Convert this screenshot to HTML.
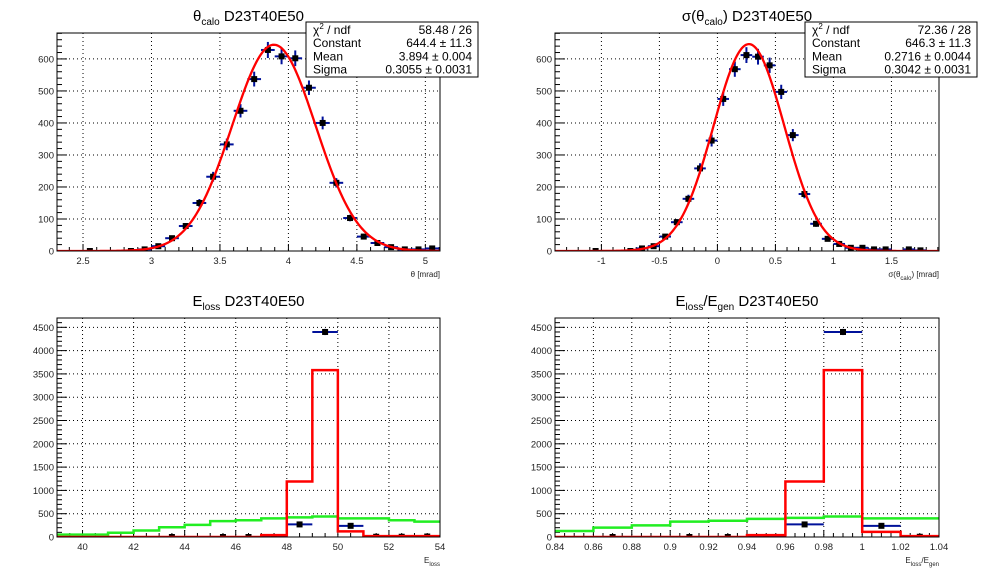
<!DOCTYPE html>
<html><head><meta charset="utf-8"><style>
body{margin:0;background:#fff;width:998px;height:571px;overflow:hidden;font-family:"Liberation Sans",sans-serif}
svg{display:block}
text{font-family:"Liberation Sans",sans-serif}
</style></head><body>
<svg id="c" width="998" height="571" viewBox="0 0 998 571"></svg>
<script>
// ---- data: top-left theta_calo
const tlX=[2.55,2.85,2.95,3.05,3.15,3.25,3.35,3.45,3.55,3.65,3.75,3.85,3.95,4.05,4.15,4.25,4.35,4.45,4.55,4.65,4.75,4.85,4.95,5.05];
const tlY=[0,0,5,15,40,78,150,232,333,438,537,628,608,602,510,400,213,103,45,25,12,5,5,8];
const tlFit=[644.4,3.894,0.3055];
const tlStats=[["χ² / ndf","58.48 / 26"],["Constant","644.4 ± 11.3"],["Mean","3.894 ± 0.004"],["Sigma","0.3055 ± 0.0031"]];
const tlTicks=[2.5,3,3.5,4,4.5,5];
// ---- data: top-right sigma(theta_calo)
const trX=[-1.05,-0.75,-0.65,-0.55,-0.45,-0.35,-0.25,-0.15,-0.05,0.05,0.15,0.25,0.35,0.45,0.55,0.65,0.75,0.85,0.95,1.05,1.15,1.25,1.35,1.45,1.65,1.75];
const trY=[0,0,8,15,45,90,163,258,345,475,568,612,607,580,497,362,178,85,38,22,10,10,5,5,5,2];
const trFit=[646.3,0.2716,0.3042];
const trStats=[["χ² / ndf","72.36 / 28"],["Constant","646.3 ± 11.3"],["Mean","0.2716 ± 0.0044"],["Sigma","0.3042 ± 0.0031"]];
const trTicks=[-1,-0.5,0,0.5,1,1.5];
// ---- data: bottom-left E_loss
const blEdges=[39,40,41,42,43,44,45,46,47,48,49,50,51,52,53,54];
const blRed=[0,0,0,0,0,0,0,0,40,1190,3580,120,20,20,20];
const blGreen=[50,50,90,140,210,260,340,360,400,420,440,400,400,360,330];
const blPtX=[43.5,45.5,46.5,47.5,48.5,49.5,50.5,51.5,52.5,53.5];
const blPtY=[0,0,0,0,270,4400,240,5,5,10];
const blTicks=[40,42,44,46,48,50,52,54];
// ---- data: bottom-right E_loss/E_gen
const brEdges=[0.84,0.86,0.88,0.90,0.92,0.94,0.96,0.98,1.00,1.02,1.04];
const brRed=[0,0,0,0,0,40,1190,3580,110,20];
const brGreen=[130,200,250,330,350,390,410,440,400,400];
const brPtX=[0.87,0.91,0.93,0.95,0.97,0.99,1.01,1.03];
const brPtY=[0,0,0,0,270,4400,240,5];
const brTicks=[0.84,0.86,0.88,0.9,0.92,0.94,0.96,0.98,1,1.02,1.04];
const yTicksTop=[0,100,200,300,400,500,600];
const yTicksBot=[0,500,1000,1500,2000,2500,3000,3500,4000,4500];

const NS="http://www.w3.org/2000/svg";
const svg=document.getElementById('c');
function mk(tag,attrs,parent,txt){const e=document.createElementNS(NS,tag);for(const k in attrs)e.setAttribute(k,attrs[k]);if(txt!==undefined)e.textContent=txt;(parent||svg).appendChild(e);return e;}

function panel(o){
  const g=mk('g',{});
  
  
  const L=o.L,R=o.R,T=o.T,B=o.B;
  const sx=v=>L+(v-o.x0)/(o.x1-o.x0)*(R-L);
  const sy=v=>B-(v-o.y0)/(o.y1-o.y0)*(B-T);
  // grid
  const grid=mk('g',{},g);
  
  
  o.xt.forEach(v=>{const x=sx(v);if(x>L+1&&x<R-1)mk('line',{x1:x,x2:x,y1:T,y2:B,stroke:'#000','stroke-width':1,'stroke-dasharray':'1,3'},grid);});
  o.yt.forEach(v=>{const y=sy(v);if(y>T+1&&y<B-1)mk('line',{x1:L,x2:R,y1:y,y2:y,stroke:'#000','stroke-width':1,'stroke-dasharray':'1,3'},grid);});
  // ticks
  const ax=mk('g',{},g);
  
  
  for(let v=Math.ceil(o.x0/o.xm-1e-6)*o.xm;v<=o.x1+1e-9;v+=o.xm){const x=sx(v);const maj=o.xt.some(t=>Math.abs(t-v)<1e-6);mk('line',{x1:x,x2:x,y1:B,y2:B-(maj?7:4),stroke:'#000'},ax);}
  for(let v=o.y0;v<=o.y1+1e-9;v+=o.ym){const y=sy(v);const maj=o.yt.some(t=>Math.abs(t-v)<1e-6);mk('line',{x1:L,x2:L+(maj?10:5),y1:y,y2:y,stroke:'#000'},ax);}
  o.xt.forEach(v=>{const t=mk('text',{x:sx(v),y:B+13,'font-size':9.5,fill:'#222','text-anchor':'middle'},ax,String(v));});
  o.yt.forEach(v=>{const t=mk('text',{x:L-3,y:sy(v)+3.5,'font-size':9.5,fill:'#222','text-anchor':'end'},ax,String(v));});
  // title
  const tt=mk('text',{x:(L+R)/2,y:T-12,'font-size':15,'text-anchor':'middle',fill:'#000'},g);
  tt.innerHTML=o.title;
  
  
  const xl=mk('text',{x:R,y:B+26,'font-size':8,'text-anchor':'end',fill:'#222'},g);
  xl.innerHTML=o.xlabel;
  
  
  // clip
  const cid='clip'+o.name;
  const cp=mk('clipPath',{id:cid},g);mk('rect',{x:L,y:T,width:R-L,height:B-T},cp);
  const plot=mk('g',{'clip-path':'url(#'+cid+')'},g);
  // histograms
  function hist(edges,vals,color,nm){let d='M'+sx(edges[0])+','+sy(vals[0]);for(let i=0;i<vals.length;i++){d+='L'+sx(edges[i])+','+sy(vals[i])+'L'+sx(edges[i+1])+','+sy(vals[i]);if(i+1<vals.length)d+='L'+sx(edges[i+1])+','+sy(vals[i+1]);}
    const p=mk('path',{d:d,fill:'none',stroke:color,'stroke-width':2.5},plot);}
  if(o.green)hist(o.edges,o.green,'#22ee22','green-histogram');
  // points
  o.px.forEach((xv,i)=>{const x=sx(xv),y=sy(o.py[i]);const pg=mk('g',{},plot);
    
    
    const e=Math.sqrt(Math.max(o.py[i],0));
    mk('line',{x1:sx(xv-o.bw/2),x2:sx(xv+o.bw/2),y1:y,y2:y,stroke:'#00119a','stroke-width':2},pg);
    if(e>0)mk('line',{x1:x,x2:x,y1:sy(o.py[i]-e),y2:sy(o.py[i]+e),stroke:'#00119a','stroke-width':2},pg);
    mk('rect',{x:x-3,y:y-3,width:6,height:6,fill:'#000'},pg);});
  if(o.red)hist(o.edges,o.red,'#ff0000','red-histogram');
  if(o.fit){const [A,m,s]=o.fit;let d='';for(let i=0;i<=300;i++){const xv=o.x0+(o.x1-o.x0)*i/300;const yv=A*Math.exp(-0.5*((xv-m)/s)**2);d+=(i?'L':'M')+sx(xv).toFixed(2)+','+sy(yv).toFixed(2);}
    const p=mk('path',{d:d,fill:'none',stroke:'#ff0000','stroke-width':2.3},plot);}
  mk('rect',{x:L,y:T,width:R-L,height:B-T,fill:'none',stroke:'#000','stroke-width':1},g);
  // stats
  if(o.stats){const sb=mk('g',{},g);
    
    
    const bx=o.sbx,by=22,bw=172,bh=55;
    mk('rect',{x:bx,y:by,width:bw,height:bh,fill:'#fff',stroke:'#000','stroke-width':1},sb);
    o.stats.forEach((r,i)=>{const yy=by+12+i*13.2;
      const a=mk('text',{x:bx+7,y:yy,'font-size':12,fill:'#000'},sb);
      if(i===0)a.innerHTML='χ<tspan dy="-5" font-size="8">2</tspan><tspan dy="5"> / ndf</tspan>';else a.textContent=r[0];
      mk('text',{x:bx+bw-6,y:yy,'font-size':12,fill:'#000','text-anchor':'end'},sb,r[1]);});}
}
panel({name:'theta-calo-panel',L:57,R:440,T:33,B:251,x0:2.31,x1:5.107,y0:0,y1:681,xt:tlTicks,xm:0.1,yt:yTicksTop,ym:20,px:tlX,py:tlY,bw:0.1,fit:tlFit,stats:tlStats,sbx:306,
  title:'θ<tspan dy="4" font-size="10">calo</tspan><tspan dy="-4"> D23T40E50</tspan>',xlabel:'θ [mrad]'});
panel({name:'sigma-theta-calo-panel',L:555,R:939,T:33,B:251,x0:-1.4,x1:1.91,y0:0,y1:681,xt:trTicks,xm:0.1,yt:yTicksTop,ym:20,px:trX,py:trY,bw:0.1,fit:trFit,stats:trStats,sbx:805,
  title:'σ(θ<tspan dy="4" font-size="10">calo</tspan><tspan dy="-4">) D23T40E50</tspan>',xlabel:'σ(θ<tspan dy="3" font-size="6">calo</tspan><tspan dy="-3">) [mrad]</tspan>'});
panel({name:'eloss-panel',L:57,R:440,T:318,B:537,x0:39,x1:54,y0:0,y1:4700,xt:blTicks,xm:0.5,yt:yTicksBot,ym:100,px:blPtX,py:blPtY,bw:1,edges:blEdges,red:blRed,green:blGreen,
  title:'E<tspan dy="4" font-size="10">loss</tspan><tspan dy="-4"> D23T40E50</tspan>',xlabel:'E<tspan dy="3" font-size="6">loss</tspan>'});
panel({name:'eloss-over-egen-panel',L:555,R:939,T:318,B:537,x0:0.84,x1:1.04,y0:0,y1:4700,xt:brTicks,xm:0.005,yt:yTicksBot,ym:100,px:brPtX,py:brPtY,bw:0.02,edges:brEdges,red:brRed,green:brGreen,
  title:'E<tspan dy="4" font-size="10">loss</tspan><tspan dy="-4">/E</tspan><tspan dy="4" font-size="10">gen</tspan><tspan dy="-4"> D23T40E50</tspan>',xlabel:'E<tspan dy="3" font-size="6">loss</tspan><tspan dy="-3">/E</tspan><tspan dy="3" font-size="6">gen</tspan>'});
</script>
</body></html>
